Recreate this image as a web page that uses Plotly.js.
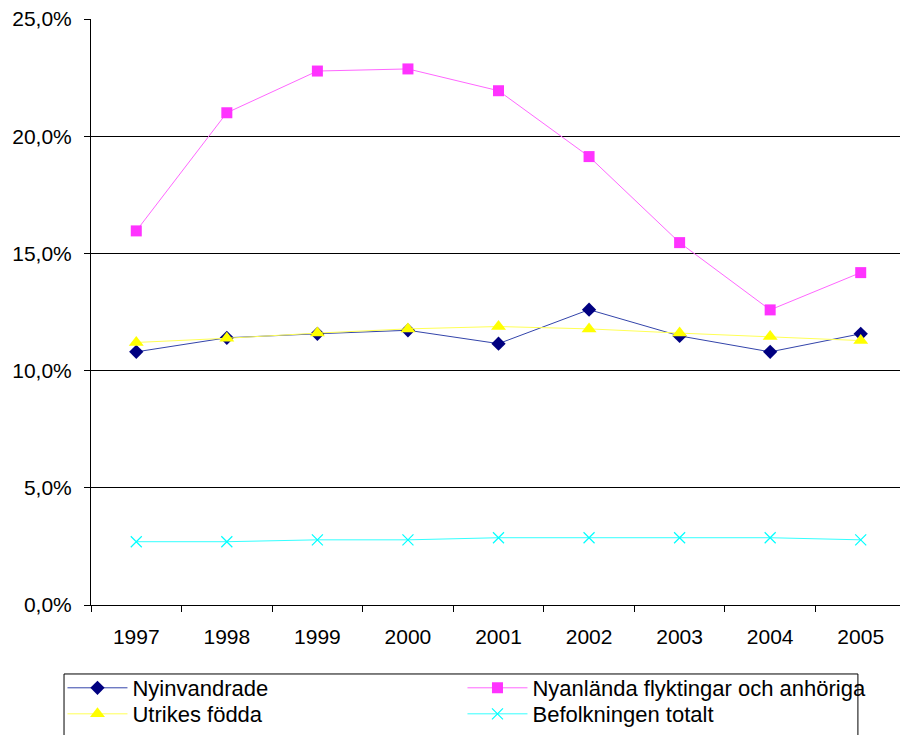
<!DOCTYPE html>
<html>
<head>
<meta charset="utf-8">
<script src="https://cdn.plot.ly/plotly-3.0.1.min.js"></script>
<style>
html,body{margin:0;padding:0;overflow:hidden;background:#fff;}
#chart{width:906px;height:735px;}
</style>
</head>
<body>
<div id="chart"></div>
<script>
const years = ['1997','1998','1999','2000','2001','2002','2003','2004','2005'];
const nyinvandrade = [10.8, 11.4, 11.57, 11.72, 11.15, 12.6, 11.48, 10.8, 11.57];
const nyanlanda = [15.96, 21.0, 22.78, 22.87, 21.94, 19.13, 15.46, 12.59, 14.18];
const utrikesFodda = [11.2, 11.38, 11.6, 11.78, 11.88, 11.78, 11.6, 11.45, 11.28];
const befolkningen = [2.7, 2.7, 2.78, 2.78, 2.87, 2.87, 2.87, 2.87, 2.78];

const names = ['Nyinvandrade', 'Nyanlända flyktingar och anhöriga', 'Utrikes födda', 'Befolkningen totalt'];
const yTicks = [0, 5, 10, 15, 20, 25];
const yTickText = yTicks.map(v => v.toFixed(1).replace('.', ',') + '%');

const traces = [
  {x: years, y: nyinvandrade, name: names[0], type: 'scatter', mode: 'lines+markers', legend: 'legend',
   line: {color: '#3344aa', width: 1},
   marker: {symbol: 'diamond', size: 11, color: '#000080'}},
  {x: years, y: nyanlanda, name: names[1], type: 'scatter', mode: 'lines+markers', legend: 'legend2',
   line: {color: '#ff66ff', width: 1},
   marker: {symbol: 'square', size: 11, color: '#ff33ff'}},
  {x: years, y: utrikesFodda, name: names[2], type: 'scatter', mode: 'lines+markers', legend: 'legend3',
   line: {color: '#ffff55', width: 1},
   marker: {symbol: 'triangle-up', size: 13, color: '#ffff00'}},
  {x: years, y: befolkningen, name: names[3], type: 'scatter', mode: 'lines+markers', legend: 'legend4',
   line: {color: '#33ffff', width: 1},
   marker: {symbol: 'x-thin', size: 11, color: '#00ffff', line: {color: '#00ffff', width: 1.2}}}
];

const legendCommon = {
  orientation: 'v', xanchor: 'left', yanchor: 'top',
  bgcolor: 'rgba(0,0,0,0)', borderwidth: 0, itemwidth: 60,
  font: {size: 22}, tracegroupgap: 0, traceorder: 'normal'
};

const layout = {
  width: 906, height: 735,
  margin: {l: 91, r: 0, t: 19, b: 130, autoexpand: false},
  paper_bgcolor: '#fff', plot_bgcolor: '#fff',
  font: {family: 'Liberation Sans, Arial, sans-serif', size: 21, color: '#000'},
  showlegend: true,
  xaxis: {
    type: 'category', range: [-0.5, 8.5],
    showline: true, linecolor: '#000', linewidth: 1,
    ticks: 'outside', tickson: 'boundaries', ticklen: 6, tickcolor: '#000',
    showgrid: false, zeroline: false,
    tickfont: {size: 21}, ticklabelstandoff: 13
  },
  yaxis: {
    range: [0, 25], tickmode: 'array', tickvals: yTicks, ticktext: yTickText,
    showline: true, linecolor: '#000', linewidth: 1,
    ticks: 'outside', ticklen: 6, tickcolor: '#000',
    showgrid: true, gridcolor: '#000', gridwidth: 1,
    zeroline: false, tickfont: {size: 21}, ticklabelstandoff: 8
  },
  legend: Object.assign({}, legendCommon, {x: -0.035, y: -0.1058}),
  legend2: Object.assign({}, legendCommon, {x: 0.4558, y: -0.1058}),
  legend3: Object.assign({}, legendCommon, {x: -0.035, y: -0.1502}),
  legend4: Object.assign({}, legendCommon, {x: 0.4558, y: -0.1502}),
  shapes: [{
    type: 'rect', xref: 'paper', yref: 'paper',
    x0: -0.0331, x1: 0.941, y0: -0.1177, y1: -0.27,
    line: {color: '#000', width: 1}, fillcolor: 'rgba(0,0,0,0)', layer: 'above'
  }]
};

Plotly.newPlot('chart', traces, layout, {displayModeBar: false, staticPlot: true});
</script>
</body>
</html>
